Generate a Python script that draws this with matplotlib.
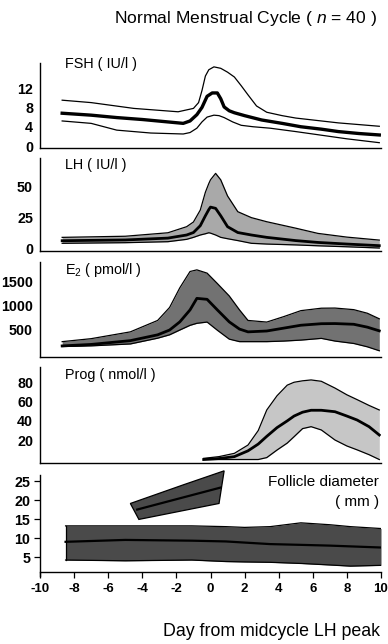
import matplotlib
matplotlib.use("Agg")
import matplotlib.pyplot as plt

plt.rcParams['font.family'] = ['Liberation Sans', 'DejaVu Sans']
plt.rcParams['mathtext.fontset'] = 'custom'
plt.rcParams['mathtext.rm'] = 'Liberation Sans'
plt.rcParams['mathtext.it'] = 'Liberation Sans:italic'

# ---- FSH (IU/l) ----
fsh_mean_x = [-8.7, -7, -5.5, -4, -2.5, -1.6, -1.2, -0.8, -0.5, -0.2, 0.1, 0.4, 0.6, 0.8, 1.1, 1.4, 2.0, 3, 4.2, 5.3, 6.5, 7.5, 8.7, 9.9]
fsh_mean_y = [6.8, 6.4, 5.9, 5.5, 5.0, 4.7, 5.2, 6.5, 8.0, 10.3, 11.0, 11.0, 9.8, 8.1, 7.3, 6.9, 6.3, 5.4, 4.7, 4.0, 3.5, 3.0, 2.6, 2.3]
fsh_up_x = [-8.7, -7, -4.5, -1.9, -1.0, -0.7, -0.5, -0.3, -0.1, 0.2, 0.6, 1.0, 1.4, 1.8, 2.2, 2.7, 3.3, 4.2, 5, 7.5, 9.9]
fsh_up_y = [9.5, 9.0, 7.8, 7.1, 7.8, 9.0, 11.5, 14.5, 15.8, 16.4, 16.1, 15.3, 14.3, 12.5, 10.6, 8.3, 7.0, 6.3, 5.8, 4.8, 4.1]
fsh_lo_x = [-8.7, -7, -5.5, -3.5, -1.6, -1.2, -0.8, -0.5, -0.2, 0.2, 0.5, 0.8, 1.3, 1.8, 2.5, 3.5, 5.0, 6, 8, 9.9]
fsh_lo_y = [5.2, 4.7, 3.3, 2.7, 2.5, 2.8, 3.7, 5.0, 6.0, 6.4, 6.3, 5.9, 5.0, 4.3, 4.0, 3.7, 3.0, 2.5, 1.5, 0.7]

# ---- LH (IU/l) ----
lh_x = [-8.7, -5, -2.5, -1.4, -1.0, -0.6, -0.3, -0.1, 0.0, 0.3, 0.6, 1.0, 1.6, 2.4, 3.3, 5, 6.3, 8, 9.9]
lh_mean = [5.9, 6.5, 8.0, 10.5, 12.5, 18, 26, 31, 33, 32, 26, 17.2, 12.5, 10.5, 8.6, 6.0, 4.5, 3.2, 1.9]
lh_up = [8.6, 9.5, 12.3, 17.2, 21, 30.6, 45, 52, 55, 60.2, 55, 42, 29.3, 24.5, 21.2, 16, 11.8, 8.8, 6.4]
lh_lo = [3.8, 4.3, 5.1, 7.0, 8.6, 10.5, 11.5, 12.3, 12.0, 10.5, 8.6, 7.5, 6.0, 3.8, 3.2, 2.5, 1.8, 1.0, 0.0]

# ---- E2 (pmol/l) ----
e2_x = [-8.7, -7, -4.7, -3.1, -2.4, -1.8, -1.2, -0.8, -0.2, 0.4, 1.1, 1.7, 2.2, 3.3, 4.3, 5.3, 6.5, 7.3, 8.4, 9.2, 9.9]
e2_mean = [149, 180, 259, 380, 480, 650, 900, 1140, 1120, 900, 650, 500, 442, 460, 520, 580, 612, 615, 600, 540, 463]
e2_up = [238, 300, 442, 680, 950, 1360, 1700, 1734, 1666, 1450, 1190, 900, 680, 646, 760, 884, 935, 938, 905, 830, 714]
e2_lo = [136, 150, 190, 310, 380, 480, 578, 620, 646, 476, 290, 238, 238, 238, 250, 270, 306, 250, 200, 130, 48]

# ---- Prog (nmol/l) ----
prog_x = [-0.4, 0.5, 1.4, 2.2, 2.8, 3.3, 3.9, 4.5, 4.9, 5.4, 5.9, 6.5, 7.3, 8.0, 8.6, 9.3, 9.9]
prog_mean = [0, 1, 3, 9, 16, 24, 33, 40, 45, 49, 51, 51, 49.5, 45, 40.9, 34, 25.4]
prog_up = [1.2, 3, 6.4, 15, 30, 51.3, 66, 77, 80, 81.5, 82.4, 81, 74, 67, 62, 56, 51.3]
prog_lo = [0, 0, 0, 0, 0, 2, 9.8, 17, 23.6, 32, 34, 30.6, 20.2, 14, 10, 5, 0]

# ---- Follicle diameter (mm) ----
dom_up_x = [-4.7, -1.6, 0.8]
dom_up_y = [19.1, 24.0, 27.7]
dom_lo_x = [-4.2, 0.5]
dom_lo_y = [14.9, 19.1]
dom_mean_x = [-4.3, 0.6]
dom_mean_y = [17.5, 23.3]

coh_x = [-8.5, -5, -1.1, 0.9, 2.0, 3.5, 5.3, 7, 8.2, 10]
coh_up = [13.2, 13.2, 13.2, 13.0, 12.8, 13.0, 14.0, 13.5, 13.0, 12.5]
coh_lo = [4.2, 4.0, 4.2, 3.8, 3.7, 3.6, 3.3, 2.9, 2.6, 2.8]
coh_mean = [9.0, 9.5, 9.3, 9.1, 8.8, 8.4, 8.2, 8.0, 7.8, 7.5]

x_ticks = list(range(-10, 11, 2))

W, H = 388, 644
fig = plt.figure(figsize=(W / 100, H / 100), dpi=100)

left = 40 / W
width = 341 / W
# (top px, bottom px) of each panel
panels = [(63, 148), (158, 251), (262, 357), (367, 463), (475, 572)]
axes = []
for top, bot in panels:
    ax = fig.add_axes([left, 1 - bot / H, width, (bot - top) / H])
    ax.set_xlim(-10, 10)
    for s in ['top', 'right']:
        ax.spines[s].set_visible(False)
    for s in ['left', 'bottom']:
        ax.spines[s].set_linewidth(1.0)
    axes.append(ax)

TICK_FS = 10.3
LABEL_FS = 10.4
band_edge = dict(color='black', lw=0.9)

# FSH
ax = axes[0]
ax.plot(fsh_up_x, fsh_up_y, **band_edge)
ax.plot(fsh_lo_x, fsh_lo_y, **band_edge)
ax.plot(fsh_mean_x, fsh_mean_y, color='black', lw=2.4)
ax.set_ylim(-0.4, 17.2)
ax.set_yticks([0, 4, 8, 12])
ax.text(0.073, 0.99, 'FSH ( IU/l )', transform=ax.transAxes, fontsize=LABEL_FS, va='center')

# LH
ax = axes[1]
ax.fill_between(lh_x, lh_lo, lh_up, color='#a9a9a9', lw=0)
ax.plot(lh_x, lh_up, **band_edge)
ax.plot(lh_x, lh_lo, **band_edge)
ax.plot(lh_x, lh_mean, color='black', lw=2.0)
ax.set_ylim(-2.4, 72.6)
ax.set_yticks([0, 25, 50])
ax.text(0.073, 0.925, 'LH ( IU/l )', transform=ax.transAxes, fontsize=LABEL_FS, va='center')

# E2
ax = axes[2]
ax.fill_between(e2_x, e2_lo, e2_up, color='#727272', lw=0)
ax.plot(e2_x, e2_up, **band_edge)
ax.plot(e2_x, e2_lo, **band_edge)
ax.plot(e2_x, e2_mean, color='black', lw=2.0)
ax.set_ylim(-82, 1898)
ax.set_yticks([500, 1000, 1500])
ax.text(0.073, 0.915, 'E$_{2}$ ( pmol/l )', transform=ax.transAxes, fontsize=LABEL_FS, va='center')

# Prog
ax = axes[3]
ax.fill_between(prog_x, prog_lo, prog_up, color='#c6c6c6', lw=0)
ax.plot(prog_x, prog_up, **band_edge)
ax.plot(prog_x, prog_lo, **band_edge)
ax.plot(prog_x, prog_mean, color='black', lw=2.0)
ax.set_ylim(-3.6, 95.8)
ax.set_yticks([20, 40, 60, 80])
ax.text(0.073, 0.92, 'Prog ( nmol/l )', transform=ax.transAxes, fontsize=LABEL_FS, va='center')

for ax in axes[:4]:
    ax.set_xticks([])
    ax.tick_params(axis='y', length=0, pad=5)
    for lab in ax.get_yticklabels():
        lab.set_fontsize(TICK_FS)
        lab.set_fontweight('bold')

# Follicle
ax = axes[4]
ax.fill_between(coh_x, coh_lo, coh_up, color='#4a4a4a', lw=0)
ax.plot(coh_x, coh_up, **band_edge)
ax.plot(coh_x, coh_lo, **band_edge)
ax.plot([coh_x[0], coh_x[0]], [coh_lo[0], coh_up[0]], **band_edge)
ax.plot(coh_x, coh_mean, color='black', lw=1.6)
poly_x = dom_up_x + dom_lo_x[::-1]
poly_y = dom_up_y + dom_lo_y[::-1]
ax.fill(poly_x, poly_y, facecolor='#4a4a4a', edgecolor='black', lw=0.9, clip_on=False)
ax.plot(dom_mean_x, dom_mean_y, color='black', lw=1.6)
ax.set_ylim(1.05, 26.6)
ax.set_yticks([5, 10, 15, 20, 25])
ax.set_xticks(x_ticks)
ax.set_xticklabels([str(t) for t in x_ticks])
ax.tick_params(axis='both', length=4, width=0.9, direction='out')
ax.tick_params(axis='y', pad=3)
ax.tick_params(axis='x', pad=4)
for lab in ax.get_yticklabels():
    lab.set_fontsize(TICK_FS)
    lab.set_fontweight('bold')
for lab in ax.get_xticklabels():
    lab.set_fontsize(9.5)
    lab.set_fontweight('bold')
ax.spines['left'].set_bounds(0.0, 26.6)
ax.text(0.995, 0.93, 'Follicle diameter', transform=ax.transAxes, ha='right', va='center', fontsize=11)
ax.text(0.995, 0.72, '( mm )', transform=ax.transAxes, ha='right', va='center', fontsize=11)

fig.text(377 / W, 1 - 18 / H, 'Normal Menstrual Cycle ( $n$ = 40 )', ha='right', va='center', fontsize=12.6)
fig.text(380 / W, 1 - 632 / H, 'Day from midcycle LH peak', ha='right', va='center', fontsize=12.8)

fig.savefig('out.png', dpi=100)
